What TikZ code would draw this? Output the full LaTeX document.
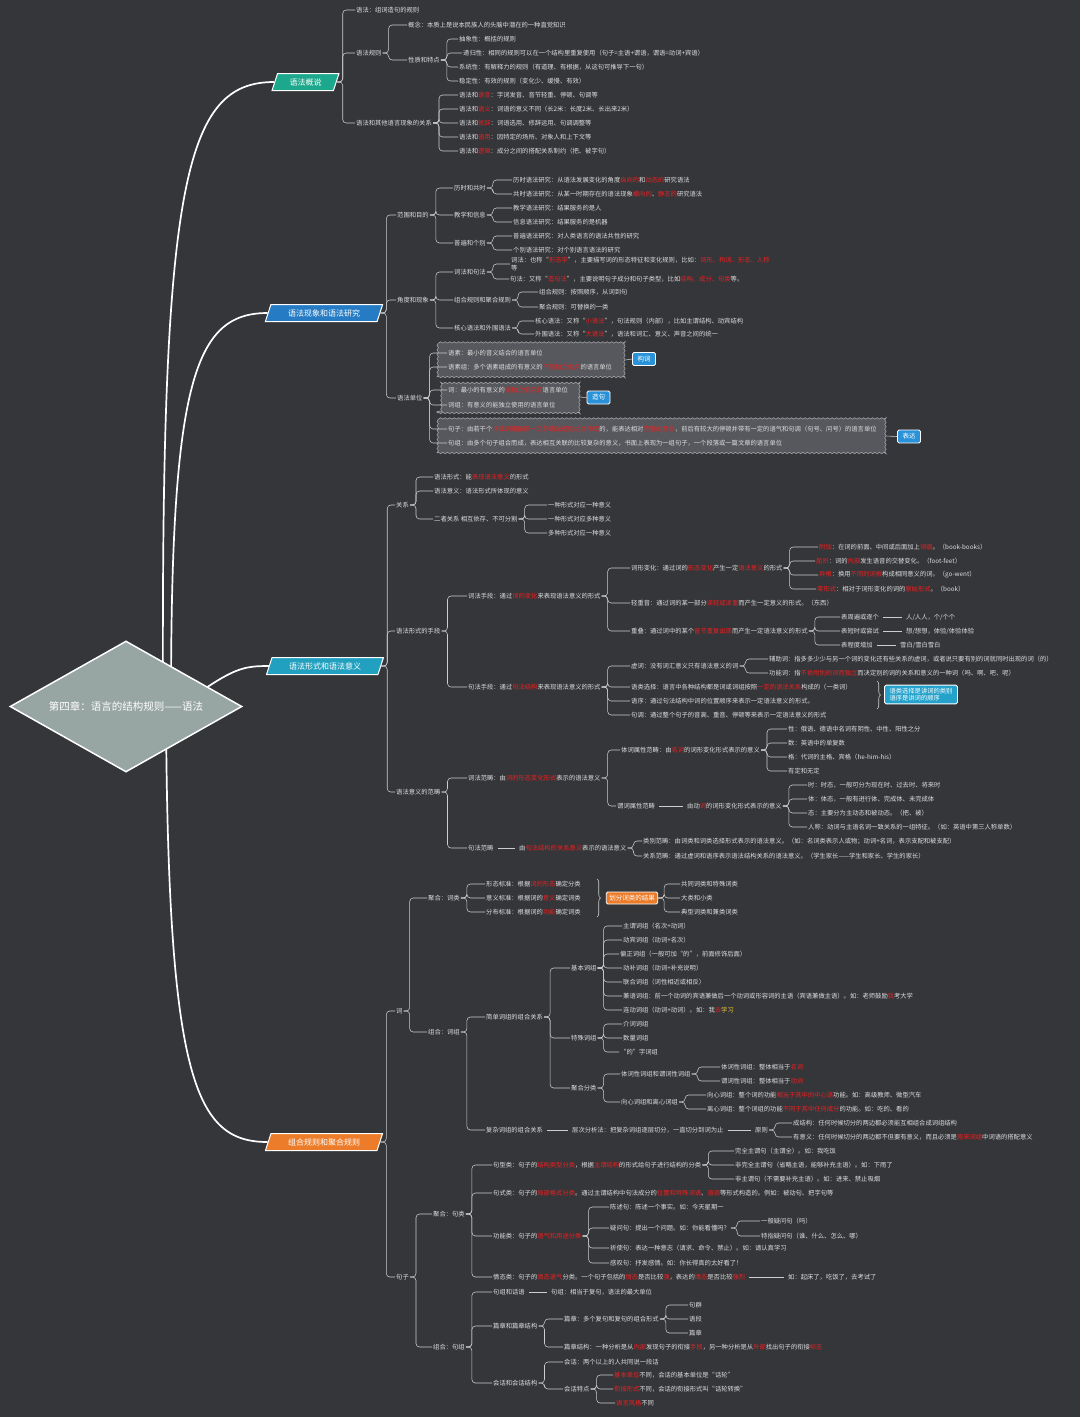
\documentclass[tikz,border=0pt]{standalone}
\usepackage{fontspec}
\newfontfamily\cjk{Noto Sans CJK SC}
\usetikzlibrary{shapes.geometric,decorations.pathmorphing,decorations.pathreplacing}
\definecolor{bgc}{RGB}{52,54,58}
\definecolor{txt}{RGB}{222,222,222}
\definecolor{hl}{RGB}{240,30,30}
\definecolor{hy}{RGB}{235,200,60}
\definecolor{lnc}{RGB}{205,205,205}
\definecolor{tgreen}{RGB}{28,168,140}
\definecolor{tblue}{RGB}{38,124,196}
\definecolor{tteal}{RGB}{34,160,192}
\definecolor{torange}{RGB}{236,124,42}
\definecolor{cblue}{RGB}{42,146,216}
\definecolor{cteal}{RGB}{36,162,204}
\definecolor{wgray}{RGB}{86,88,93}
\definecolor{wedge}{RGB}{160,162,166}
\definecolor{rootc}{RGB}{151,165,163}
\newcommand\rd[1]{\textcolor{hl}{#1}}
\newcommand\yl[1]{\textcolor{hy}{#1}}
\newcommand\Lk[2]{\draw[cn] (#1.east) -- ++(6,0) |- (#2.west);}
\newcommand\Sk[2]{\draw[cn] ([xshift=3pt]#1.east) -- ([xshift=-3pt]#2.west);}
\newcommand\Nd[4]{\node[t] (#1) at (#2,#3) {#4};}
\pgfdeclarelayer{bg}
\pgfsetlayers{bg,main}
\begin{document}
\begin{tikzpicture}[x=1pt,y=-1pt,
  t/.style={anchor=west, inner sep=1pt, text=txt, font=\cjk\fontsize{6.3}{7.6}\selectfont},
  cn/.style={draw=lnc, line width=0.55pt, rounded corners=3.5pt},
  mln/.style={draw=white, line width=1.7pt},
  topic/.style={trapezium, trapezium left angle=72, trapezium right angle=108, draw=white, line width=1pt, text=white, font=\cjk\fontsize{8}{9.5}\selectfont, inner xsep=6pt, inner ysep=3pt, minimum height=17pt},
  wbox/.style={draw=wedge, fill=wgray, line width=0.6pt, decorate, decoration={snake, segment length=4.5pt, amplitude=0.7pt}},
  cbox/.style={draw=white, line width=0.9pt, rounded corners=1.5pt, text=white, font=\cjk\fontsize{6.5}{8}\selectfont, inner xsep=5pt, inner ysep=3.5pt},
  brc/.style={draw=lnc, line width=0.6pt, decorate, decoration={brace, amplitude=3.5pt}}
]
\begin{pgfonlayer}{bg}
\fill[bgc] (0,0) rectangle (1080,1417);
\end{pgfonlayer}
\useasboundingbox (0,0) rectangle (1080,1417);

% root and topics
\node[diamond, aspect=1.77, draw=white, line width=1.5pt, fill=rootc, minimum width=232pt, minimum height=131pt, inner sep=0pt, text=white, font=\cjk\fontsize{10.5}{12}\selectfont] (root) at (126,706.5) {第四章：语言的结构规则——语法};
\node[topic, fill=tgreen] (TA) at (305.5,82) {语法概说};
\node[topic, fill=tblue] (TB) at (324,313) {语法现象和语法研究};
\node[topic, fill=tteal] (TC) at (325,666) {语法形式和语法意义};
\node[topic, fill=torange] (TD) at (324,1142) {组合规则和聚合规则};
\coordinate (r1) at (163,700);
\coordinate (r2) at (171,700);
\coordinate (r3) at (200,692);
\coordinate (r4) at (166,712);

% ===== Section A =====
\Nd{A1}{355}{10}{语法：组词造句的规则}
\Nd{A2}{355}{53}{语法规则}
\Nd{A21}{407}{25}{概念：本质上是说本民族人的头脑中潜在的一种直觉知识}
\Nd{A22}{407}{60}{性质和特点}
\Nd{A221}{458}{39}{抽象性：概括的规则}
\Nd{A222}{462}{53}{递归性：相同的规则可以在一个结构里重复使用（句子=主语+谓语，谓语=动词+宾语）}
\Nd{A223}{458}{67}{系统性：有解释力的规则（有道理、有根据，从这句可推导下一句）}
\Nd{A224}{458}{81}{稳定性：有效的规则（变化少、缓慢、有效）}
\Nd{A3}{355}{123}{语法和其他语言现象的关系}
\Nd{A31}{458}{95}{语法和\rd{语音}：字词发音、音节轻重、停顿、句调等}
\Nd{A32}{458}{109}{语法和\rd{语义}：词语的意义不同（长2米：长度2米、长出来2米）}
\Nd{A33}{458}{123}{语法和\rd{修辞}：词语选用、修辞运用、句调调整等}
\Nd{A34}{458}{137}{语法和\rd{语用}：因特定的场所、对象人和上下文等}
\Nd{A35}{458}{151}{语法和\rd{逻辑}：成分之间的搭配关系制约（把、被字句）}
\Lk{TA}{A1}\Lk{TA}{A2}\Lk{TA}{A3}
\Lk{A2}{A21}\Lk{A2}{A22}
\Lk{A22}{A221}\Lk{A22}{A222}\Lk{A22}{A223}\Lk{A22}{A224}
\Lk{A3}{A31}\Lk{A3}{A32}\Lk{A3}{A33}\Lk{A3}{A34}\Lk{A3}{A35}

% ===== Section B =====
\Nd{B1}{396}{215}{范围和目的}
\Nd{B11}{453}{188}{历时和共时}
\Nd{B111}{512}{180}{历时语法研究：从语法发展变化的角度\rd{纵向的}和\rd{动态的}研究语法}
\Nd{B112}{512}{194}{共时语法研究：从某一时期存在的语法现象\rd{横向的}、\rd{静态的}研究语法}
\Nd{B12}{453}{215}{教学和信息}
\Nd{B121}{512}{208}{教学语法研究：结果服务的是人}
\Nd{B122}{512}{222}{信息语法研究：结果服务的是机器}
\Nd{B13}{453}{243}{普遍和个别}
\Nd{B131}{512}{236}{普遍语法研究：对人类语言的语法共性的研究}
\Nd{B132}{512}{250}{个别语法研究：对个别语言语法的研究}
\Nd{B2}{396}{300}{角度和现象}
\Nd{B21}{453}{272}{词法和句法}
\node[t, align=left] (B211) at (510,264) {词法：也称“\rd{形态学}”，主要描写词的形态特征和变化规则，比如：\rd{词形、构词、形态、人称}\\等};
\Nd{B212}{509}{279}{句法：又称“\rd{造句法}”，主要说明句子成分和句子类型，比如\rd{结构、成分、句类}等。}
\Nd{B22}{453}{300}{组合规则和聚合规则}
\Nd{B221}{538}{292}{组合规则：按照顺序，从词到句}
\Nd{B222}{538}{307}{聚合规则：可替换的一类}
\Nd{B23}{453}{328}{核心语法和外围语法}
\Nd{B231}{534}{321}{核心语法：又称“\rd{小语法}”，句法规则（内部），比如主谓结构、动宾结构}
\Nd{B232}{534}{334}{外围语法：又称“\rd{大语法}”，语法和词汇、意义、声音之间的统一}
\Nd{B3}{396}{398}{语法单位}
\node[wbox, minimum width=188pt, minimum height=34pt] (W1) at (531,360) {};
\node[wbox, minimum width=141pt, minimum height=32pt] (W2) at (507.5,397) {};
\node[wbox, minimum width=449pt, minimum height=34pt] (W3) at (661.5,436) {};
\Nd{B31}{447}{353}{语素：最小的音义结合的语言单位}
\Nd{B32}{447}{367}{语素组：多个语素组成的有意义的\rd{不能独立使用}的语言单位}
\Nd{B33}{447}{390}{词：最小的有意义的\rd{能独立使用的}语言单位}
\Nd{B34}{447}{405}{词组：有意义的能独立使用的语言单位}
\Nd{B35}{447}{429}{句子：由若干个\rd{词或词组按照一定的语法规则组合而成}的，能表达相对\rd{完整的意思}，前后有较大的停顿并带有一定的语气和句调（句号、问号）的语言单位}
\Nd{B36}{447}{443}{句组：由多个句子组合而成，表达相互关联的比较复杂的意义，书面上表现为一组句子，一个段落或一篇文章的语言单位}
\node[cbox, fill=cblue] (K1) at (644,359) {构词};
\node[cbox, fill=cblue] (K2) at (598.5,397.5) {造句};
\node[cbox, fill=cblue] (K3) at (909,436.5) {表达};
\draw[cn] (W1.east) -- (K1.west);
\draw[cn] (W2.east) -- (K2.west);
\draw[cn] (W3.east) -- (K3.west);
\Lk{TB}{B1}\Lk{TB}{B2}\Lk{TB}{B3}
\Lk{B1}{B11}\Lk{B1}{B12}\Lk{B1}{B13}
\Lk{B11}{B111}\Lk{B11}{B112}\Lk{B12}{B121}\Lk{B12}{B122}\Lk{B13}{B131}\Lk{B13}{B132}
\Lk{B2}{B21}\Lk{B2}{B22}\Lk{B2}{B23}
\Lk{B21}{B211}\Lk{B21}{B212}\Lk{B22}{B221}\Lk{B22}{B222}\Lk{B23}{B231}\Lk{B23}{B232}
\Lk{B3}{B31}\Lk{B3}{B32}\Lk{B3}{B33}\Lk{B3}{B34}\Lk{B3}{B35}\Lk{B3}{B36}

% ===== Section C =====
\Nd{C1}{395}{505}{关系}
\Nd{C11}{433}{477}{语法形式：能\rd{表现语法意义}的形式}
\Nd{C12}{433}{491}{语法意义：语法形式所体现的意义}
\Nd{C13}{433}{519}{二者关系 相互依存、不可分割}
\Nd{C131}{547}{505}{一种形式对应一种意义}
\Nd{C132}{547}{519}{一种形式对应多种意义}
\Nd{C133}{547}{533}{多种形式对应一种意义}
\Nd{C2}{395}{631}{语法形式的手段}
\Nd{C21}{467}{596}{词法手段：通过\rd{词的变化}来表现语法意义的形式}
\Nd{C211}{630}{568}{词形变化：通过词的\rd{形态变化}产生一定\rd{语法意义}的形式}
\Nd{C2111}{818}{547}{\rd{附加}：在词的前面、中间或后面加上\rd{词缀}。（book-books）}
\Nd{C2112}{815}{561}{\rd{屈折}：词的\rd{内部}发生语音的交替变化。（foot-feet）}
\Nd{C2113}{818}{575}{\rd{异根}：换用\rd{不同的词根}构成相同意义的词。（go-went）}
\Nd{C2114}{816}{589}{\rd{零形式}：相对于词形变化的词的\rd{原始形式}。（book）}
\Nd{C212}{630}{603}{轻重音：通过词的某一部分\rd{读轻或读重}而产生一定意义的形式。（东西）}
\Nd{C213}{630}{631}{重叠：通过词中的某个\rd{音节重复出现}而产生一定语法意义的形式}
\Nd{C2131}{840}{617}{表周遍或逐个}
\Nd{C2131b}{905}{617}{人/人人，个/个个}
\Nd{C2132}{840}{631}{表短时或尝试}
\Nd{C2132b}{905}{631}{想/想想，体验/体验体验}
\Nd{C2133}{840}{645}{表程度增加}
\Nd{C2133b}{899}{645}{雪白/雪白雪白}
\Nd{C22}{467}{687}{句法手段：通过\rd{句法结构}来表现语法意义的形式}
\Nd{C221}{630}{666}{虚词：没有词汇意义只有语法意义的词}
\Nd{C2211}{768}{659}{辅助词：指多多少少与另一个词的变化还有些关系的虚词，或者说只要有别的词就同时出现的词（的）}
\Nd{C2212}{768}{673}{功能词：指\rd{不依附别的词而独立}而决定别的词的关系和意义的一种词（吗、啊、吧、呢）}
\Nd{C222}{630}{687}{语类选择：语言中各种结构都是词或词组按照\rd{一定的语法关系}构成的（一类词）}
\Nd{C223}{630}{701}{语序：通过句法结构中词的位置顺序来表示一定语法意义的形式。}
\Nd{C224}{630}{715}{句调：通过整个句子的音高、重音、停顿等来表示一定语法意义的形式}
\draw[brc] (877,681) -- (877,709);
\node[cbox, fill=cteal, align=left, inner ysep=2.5pt, font=\cjk\fontsize{6.3}{7.8}\selectfont] (K4) at (921,694.5) {语类选择是讲词的类别\\语序是讲词的顺序};
\Nd{C3}{395}{792}{语法意义的范畴}
\Nd{C31}{467}{778}{词法范畴：由\rd{词的形态变化形式}表示的语法意义}
\Nd{C311}{620}{750}{体词属性范畴：由\rd{名词}的词形变化形式表示的意义}
\Nd{C3111}{787}{729}{性：俄语、德语中名词有阴性、中性、阳性之分}
\Nd{C3112}{787}{743}{数：英语中的单复数}
\Nd{C3113}{787}{757}{格：代词的主格、宾格（he-him-his）}
\Nd{C3114}{787}{771}{有定和无定}
\Nd{C312}{616}{806}{谓词属性范畴}
\Nd{C312b}{686}{806}{由动\rd{词}的词形变化形式表示的意义}
\Nd{C3121}{807}{785}{时：时态，一般可分为现在时、过去时、将来时}
\Nd{C3122}{807}{799}{体：体态，一般有进行体、完成体、未完成体}
\Nd{C3123}{807}{813}{态：主要分为主动态和被动态。（把、被）}
\Nd{C3124}{807}{827}{人称：动词与主语名词一致关系的一组特征。（如：英语中第三人称单数）}
\Nd{C32}{467}{848}{句法范畴}
\Nd{C32b}{518}{848}{由\rd{句法结构的关系意义}表示的语法意义}
\Nd{C321}{642}{841}{类别范畴：由词类和词类选择形式表示的语法意义。（如：名词类表示人或物；动词+名词，表示支配和被支配）}
\Nd{C322}{642}{856}{关系范畴：通过虚词和语序表示语法结构关系的语法意义。（学生家长——学生和家长、学生的家长）}
\Lk{TC}{C1}\Lk{TC}{C2}\Lk{TC}{C3}
\Lk{C1}{C11}\Lk{C1}{C12}\Lk{C1}{C13}
\Lk{C13}{C131}\Lk{C13}{C132}\Lk{C13}{C133}
\Lk{C2}{C21}\Lk{C2}{C22}
\Lk{C21}{C211}\Lk{C21}{C212}\Lk{C21}{C213}
\Lk{C211}{C2111}\Lk{C211}{C2112}\Lk{C211}{C2113}\Lk{C211}{C2114}
\Lk{C213}{C2131}\Lk{C213}{C2132}\Lk{C213}{C2133}
\Sk{C2131}{C2131b}\Sk{C2132}{C2132b}\Sk{C2133}{C2133b}
\Lk{C22}{C221}\Lk{C22}{C222}\Lk{C22}{C223}\Lk{C22}{C224}
\Lk{C221}{C2211}\Lk{C221}{C2212}
\Lk{C3}{C31}\Lk{C3}{C32}
\Lk{C31}{C311}\Lk{C31}{C312}
\Lk{C311}{C3111}\Lk{C311}{C3112}\Lk{C311}{C3113}\Lk{C311}{C3114}
\Sk{C312}{C312b}
\Lk{C312b}{C3121}\Lk{C312b}{C3122}\Lk{C312b}{C3123}\Lk{C312b}{C3124}
\Sk{C32}{C32b}
\Lk{C32b}{C321}\Lk{C32b}{C322}

% ===== Section D =====
\Nd{D1}{395}{1011}{词}
\Nd{D11}{427}{898}{聚合：词类}
\Nd{D111}{485}{884}{形态标准：根据\rd{词的形态}确定分类}
\Nd{D112}{485}{898}{意义标准：根据词的\rd{意义}确定词类}
\Nd{D113}{485}{912}{分布标准：根据词的\rd{功能}确定词类}
\draw[brc] (597,879) -- (597,917);
\node[cbox, fill=torange, inner xsep=3pt, inner ysep=3pt] (K5) at (632,898) {划分词类的结果};
\Nd{D114}{680}{884}{共同词类和特殊词类}
\Nd{D115}{680}{898}{大类和小类}
\Nd{D116}{680}{912}{典型词类和兼类词类}
\Nd{D12}{427}{1032}{组合：词组}
\Nd{D121}{485}{1017}{简单词组的组合关系}
\Nd{D1211}{570}{968}{基本词组}
\Nd{D12111}{622}{926}{主谓词组（名次+动词）}
\Nd{D12112}{622}{940}{动宾词组（动词+名次）}
\Nd{D12113}{619}{954}{偏正词组（一般可加“的”，前面修饰后面）}
\Nd{D12114}{622}{968}{动补词组（动词+补充说明）}
\Nd{D12115}{622}{982}{联合词组（词性相近或相反）}
\Nd{D12116}{622}{996}{兼语词组：前一个动词的宾语兼做后一个动词或形容词的主语（宾语兼做主语）。如：老师鼓励\rd{我}考大学}
\Nd{D12117}{622}{1010}{连动词组（动词+动词）。如：我\rd{去}\yl{学习}}
\Nd{D1212}{570}{1038}{特殊词组}
\Nd{D12121}{622}{1024}{介词词组}
\Nd{D12122}{622}{1038}{数量词组}
\Nd{D12123}{619}{1052}{“的”字词组}
\Nd{D1213}{570}{1088}{聚合分类}
\Nd{D12131}{620}{1074}{体词性词组和谓词性词组}
\Nd{D121311}{720}{1067}{体词性词组：整体相当于\rd{名词}}
\Nd{D121312}{720}{1081}{谓词性词组：整体相当于\rd{动词}}
\Nd{D12132}{620}{1102}{向心词组和离心词组}
\Nd{D121321}{706}{1095}{向心词组：整个词的功能\rd{相当于其中的中心语}功能。如：高级教师、微型汽车}
\Nd{D121322}{706}{1109}{离心词组：整个词组的功能\rd{不同于其中任何成分}的功能。如：吃的、看的}
\Nd{D122}{485}{1130}{复杂词组的组合关系}
\Nd{D122b}{571}{1130}{层次分析法：把复杂词组逐层切分，一直切分到词为止}
\Nd{D122c}{754}{1130}{原则}
\Nd{D1221}{792}{1123}{成结构：任何时候切分的两边都必须能互相组合成词组结构}
\Nd{D1222}{792}{1137}{有意义：任何时候切分的两边都不但要有意义，而且必须是\rd{原来词组}中词语的搭配意义}
\Nd{D2}{395}{1277}{句子}
\Nd{D21}{432}{1214}{聚合：句类}
\Nd{D211}{492}{1165}{句型类：句子的\rd{结构类型分类}，根据\rd{主谓结构}的形式给句子进行结构的分类}
\Nd{D2111}{734}{1151}{完全主谓句（主谓全）。如：我吃饭}
\Nd{D2112}{734}{1165}{非完全主谓句（省略主语，能够补充主语）。如：下雨了}
\Nd{D2113}{734}{1179}{非主谓句（不需要补充主语）。如：进来、禁止吸烟}
\Nd{D212}{492}{1193}{句式类：句子的\rd{局部格式分类}。通过主谓结构中句法成分的\rd{位置和特殊词语}、\rd{语调}等形式构造的。例如：被动句、把字句等}
\Nd{D213}{492}{1236}{功能类：句子的\rd{语气和用途分类}}
\Nd{D2131}{609}{1207}{陈述句：陈述一个事实。如：今天星期一}
\Nd{D2132}{609}{1228}{疑问句：提出一个问题。如：你能看懂吗？}
\Nd{D21321}{760}{1221}{一般疑问句（吗）}
\Nd{D21322}{760}{1236}{特指疑问句（谁、什么、怎么、哪）}
\Nd{D2133}{609}{1248}{祈使句：表达一种意志（请求、命令、禁止）。如：请认真学习}
\Nd{D2134}{609}{1263}{感叹句：抒发感情。如：你长得真的太好看了！}
\Nd{D214}{492}{1277}{情态类：句子的\rd{情态语气}分类。一个句子包括的\rd{情态}是否比较\rd{强}，表达的\rd{情态}是否比较\rd{强烈}}
\Nd{D214b}{787}{1277}{如：起床了，吃饭了，去考试了}
\Nd{D22}{432}{1347}{组合：句组}
\Nd{D221}{492}{1292}{句组和话语}
\Nd{D221b}{550}{1292}{句组：相当于复句，语法的最大单位}
\Nd{D222}{492}{1326}{篇章和篇章结构}
\Nd{D2221}{563}{1319}{篇章：多个复句和复句的组合形式}
\Nd{D22211}{688}{1305}{句群}
\Nd{D22212}{688}{1319}{语段}
\Nd{D22213}{688}{1333}{篇章}
\Nd{D2222}{563}{1347}{篇章结构：一种分析是从\rd{内部}发现句子的衔接\rd{手段}，另一种分析是从\rd{外部}找出句子的衔接\rd{标志}}
\Nd{D223}{492}{1383}{会话和会话结构}
\Nd{D2231}{563}{1362}{会话：两个以上的人共同说一段话}
\Nd{D2232}{563}{1389}{会话特点}
\Nd{D22321}{613}{1375}{\rd{基本单位}不同，会话的基本单位是“话轮”}
\Nd{D22322}{613}{1389}{\rd{衔接形式}不同，会话的衔接形式叫“话轮转换”}
\Nd{D22323}{615}{1403}{\rd{语言风格}不同}
\Lk{TD}{D1}\Lk{TD}{D2}
\Lk{D1}{D11}\Lk{D1}{D12}
\Lk{D11}{D111}\Lk{D11}{D112}\Lk{D11}{D113}
\Lk{K5}{D114}\Lk{K5}{D115}\Lk{K5}{D116}
\Lk{D12}{D121}\Lk{D12}{D122}
\Lk{D121}{D1211}\Lk{D121}{D1212}\Lk{D121}{D1213}
\Lk{D1211}{D12111}\Lk{D1211}{D12112}\Lk{D1211}{D12113}\Lk{D1211}{D12114}\Lk{D1211}{D12115}\Lk{D1211}{D12116}\Lk{D1211}{D12117}
\Lk{D1212}{D12121}\Lk{D1212}{D12122}\Lk{D1212}{D12123}
\Lk{D1213}{D12131}\Lk{D1213}{D12132}
\Lk{D12131}{D121311}\Lk{D12131}{D121312}
\Lk{D12132}{D121321}\Lk{D12132}{D121322}
\Sk{D122}{D122b}\Sk{D122b}{D122c}
\Lk{D122c}{D1221}\Lk{D122c}{D1222}
\Lk{D2}{D21}\Lk{D2}{D22}
\Lk{D21}{D211}\Lk{D21}{D212}\Lk{D21}{D213}\Lk{D21}{D214}
\Lk{D211}{D2111}\Lk{D211}{D2112}\Lk{D211}{D2113}
\Lk{D213}{D2131}\Lk{D213}{D2132}\Lk{D213}{D2133}\Lk{D213}{D2134}
\Lk{D2132}{D21321}\Lk{D2132}{D21322}
\Sk{D214}{D214b}
\Lk{D22}{D221}\Lk{D22}{D222}\Lk{D22}{D223}
\Sk{D221}{D221b}
\Lk{D222}{D2221}\Lk{D222}{D2222}
\Lk{D2221}{D22211}\Lk{D2221}{D22212}\Lk{D2221}{D22213}
\Lk{D223}{D2231}\Lk{D223}{D2232}
\Lk{D2232}{D22321}\Lk{D2232}{D22322}\Lk{D2232}{D22323}

% main branches
\begin{pgfonlayer}{bg}
\draw[mln] (r1) .. controls (161,180) and (185,82) .. (TA.west);
\draw[mln] (r2) .. controls (171,380) and (195,313) .. (TB.west);
\draw[mln] (r3) .. controls (235,668) and (245,666) .. (TC.west);
\draw[mln] (r4) .. controls (168,1080) and (195,1142) .. (TD.west);
\end{pgfonlayer}
\end{tikzpicture}
\end{document}
